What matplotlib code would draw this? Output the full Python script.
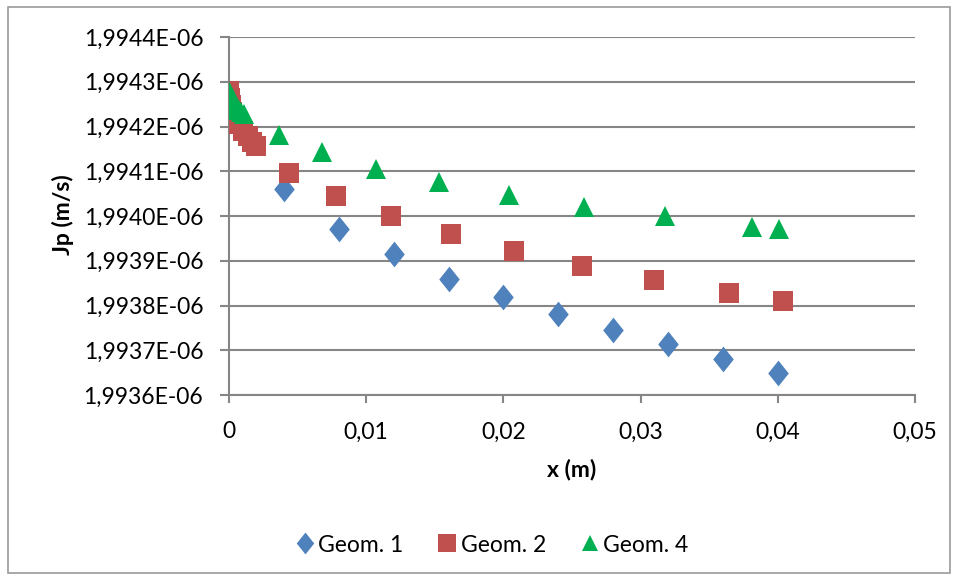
import matplotlib
matplotlib.use("Agg")
import matplotlib.pyplot as plt
from matplotlib.patches import Rectangle
from matplotlib.ticker import FixedLocator, FixedFormatter

plt.rcParams['font.family'] = ['Lato', 'DejaVu Sans']

# Geom. 1 (blue diamonds)
x_geom1 = [0.004, 0.008, 0.012, 0.016, 0.020, 0.024, 0.028, 0.032, 0.036, 0.040]
jp_geom1 = [1.99406e-06, 1.99397e-06, 1.993915e-06, 1.99386e-06, 1.99382e-06,
            1.99378e-06, 1.993745e-06, 1.993715e-06, 1.99368e-06, 1.99365e-06]

# Geom. 2 (red squares)
x_geom2 = [0.0, 0.00007, 0.00015, 0.00022, 0.00044, 0.00073, 0.00102, 0.00138,
           0.00167, 0.00197, 0.00437, 0.00779, 0.01179, 0.01616, 0.0208,
           0.02576, 0.0310, 0.03646, 0.0404]
jp_geom2 = [1.994279e-06, 1.994263e-06, 1.994248e-06, 1.994232e-06, 1.994218e-06,
            1.994205e-06, 1.994191e-06, 1.994178e-06, 1.994165e-06, 1.994156e-06,
            1.994096e-06, 1.994044e-06, 1.994000e-06, 1.993959e-06, 1.993922e-06,
            1.993889e-06, 1.993857e-06, 1.993829e-06, 1.993809e-06]

# Geom. 4 (green triangles)
x_geom4 = [0.0, 0.0001, 0.0002, 0.0003, 0.0005, 0.0007, 0.0009, 0.0011,
           0.00364, 0.00677, 0.0107, 0.01528, 0.02038, 0.0259, 0.0318, 0.0381, 0.0401]
jp_geom4 = [1.99428e-06, 1.99427e-06, 1.99426e-06, 1.99425e-06, 1.99424e-06,
            1.994237e-06, 1.994232e-06, 1.994228e-06,
            1.994182e-06, 1.994142e-06, 1.994106e-06, 1.994077e-06, 1.994048e-06,
            1.994021e-06, 1.993999e-06, 1.993976e-06, 1.99397e-06]

x_ticks = [0.0, 0.01, 0.02, 0.03, 0.04, 0.05]
x_tick_labels = ["0", "0,01", "0,02", "0,03", "0,04", "0,05"]
y_ticks = [1.9936e-06, 1.9937e-06, 1.9938e-06, 1.9939e-06, 1.9940e-06,
           1.9941e-06, 1.9942e-06, 1.9943e-06, 1.9944e-06]
y_tick_labels = ["1,9936E-06", "1,9937E-06", "1,9938E-06", "1,9939E-06", "1,9940E-06",
                 "1,9941E-06", "1,9942E-06", "1,9943E-06", "1,9944E-06"]

BLUE = "#4F81BD"
RED = "#C0504D"
GREEN = "#00B050"
GRID = "#868686"
FS = 16.5

W, H = 958, 578
fig = plt.figure(figsize=(W / 100, H / 100), dpi=100)
fig.patch.set_facecolor("white")

# chart area frame
fig.patches.append(Rectangle((7.5 / W, 1 - 572.5 / H), (950 - 7.5) / W, (572.5 - 6.5) / H,
                             transform=fig.transFigure, fill=False,
                             edgecolor="#9A9A9A", linewidth=1.2))

ax = fig.add_axes([229 / W, 1 - 395 / H, (915 - 229) / W, (395 - 37) / H])

diamond = [(0, 1), (0.8, 0), (0, -1), (-0.8, 0), (0, 1)]

ax.plot(x_geom1, jp_geom1, linestyle="none", marker=diamond, markersize=18.5,
        color=BLUE, markeredgewidth=0, label="Geom. 1", zorder=3)
ax.plot(x_geom2, jp_geom2, linestyle="none", marker="s", markersize=14.5,
        color=RED, markeredgewidth=0, label="Geom. 2", zorder=4)
ax.plot(x_geom4, jp_geom4, linestyle="none", marker="^", markersize=14,
        color=GREEN, markeredgewidth=0, label="Geom. 4", zorder=5)

ax.set_xlim(0, 0.05)
ax.set_ylim(1.9936e-06, 1.9944e-06)
ax.xaxis.set_major_locator(FixedLocator(x_ticks))
ax.xaxis.set_major_formatter(FixedFormatter(x_tick_labels))
ax.yaxis.set_major_locator(FixedLocator(y_ticks))
ax.yaxis.set_major_formatter(FixedFormatter(y_tick_labels))

ax.grid(axis="y", color=GRID, linewidth=1.5, zorder=1)
ax.set_axisbelow(True)
for side in ("top", "right"):
    ax.spines[side].set_visible(False)
for side in ("left", "bottom"):
    ax.spines[side].set_color(GRID)
    ax.spines[side].set_linewidth(1.5)

ax.tick_params(axis="y", direction="out", length=6.5, width=1.5, color=GRID,
               labelsize=FS, pad=12, labelcolor="black")
ax.tick_params(axis="x", direction="out", length=6, width=1.5, color=GRID,
               labelsize=FS, pad=13, labelcolor="black")

fig.text(63 / W, 1 - 215 / H, "Jp (m/s)", rotation=90, ha="center", va="center",
         fontsize=FS, fontweight="bold")
fig.text(572 / W, 1 - 470 / H, "x (m)", ha="center", va="center",
         fontsize=FS, fontweight="bold")

leg = fig.legend(loc="center", bbox_to_anchor=(492 / W, 1 - 545 / H), ncol=3,
                 frameon=False, fontsize=FS, handlelength=0.8, handletextpad=0.2,
                 columnspacing=1.5, markerscale=0.85)

fig.savefig("out.png", dpi=100, facecolor="white")
